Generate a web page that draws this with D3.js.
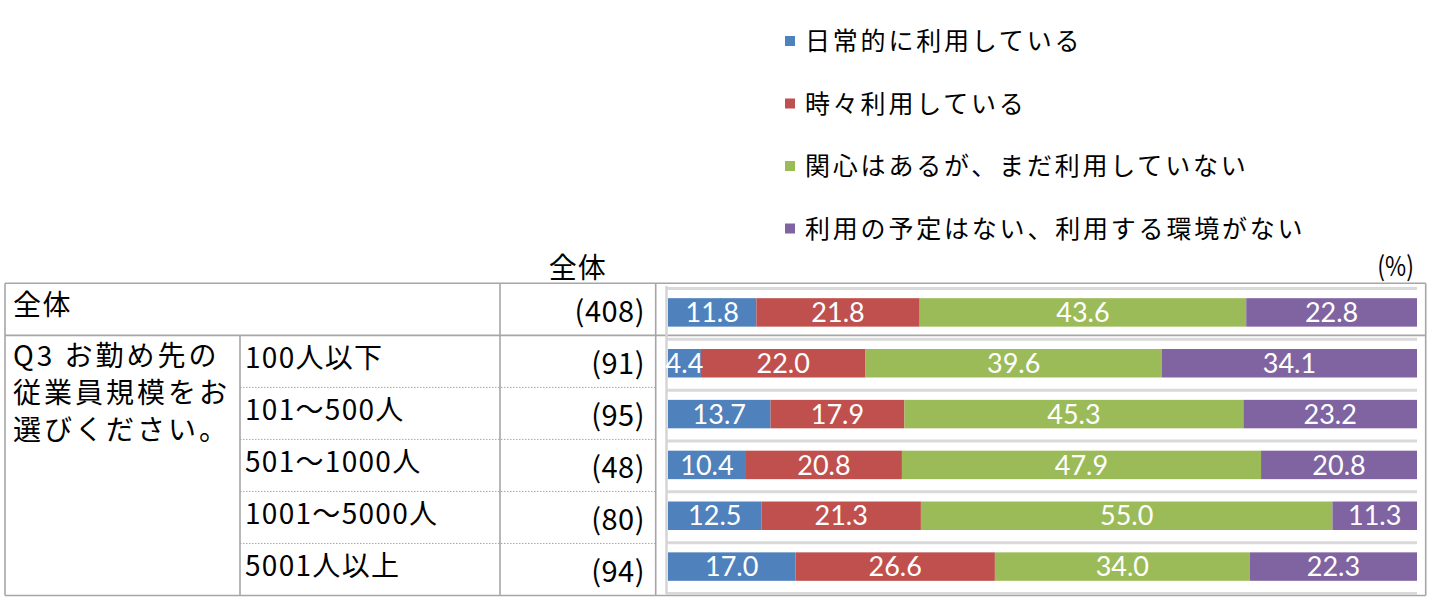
<!DOCTYPE html>
<html>
<head>
<meta charset="utf-8">
<script src="https://cdn.jsdelivr.net/npm/d3@7"></script>
<style>
  html, body { margin: 0; padding: 0; background: #fff; }
  svg { display: block; }
  .jp { font-family: "Noto Sans CJK JP", "Noto Sans", sans-serif; fill: #000; }
  .num { font-family: Lato, "Open Sans", sans-serif; fill: #fff; }
</style>
</head>
<body>
<svg id="chart" width="1434" height="604"></svg>
<script>
// ---- data ----
const categories = ["全体", "100人以下", "101～500人", "501～1000人", "1001～5000人", "5001人以上"];
const counts = [408, 91, 95, 48, 80, 94];
const seriesNames = ["日常的に利用している", "時々利用している", "関心はあるが、まだ利用していない", "利用の予定はない、利用する環境がない"];
const dailyUse = [11.8, 4.4, 13.7, 10.4, 12.5, 17.0];
const sometimesUse = [21.8, 22.0, 17.9, 20.8, 21.3, 26.6];
const interestedNotYet = [43.6, 39.6, 45.3, 47.9, 55.0, 34.0];
const noPlan = [22.8, 34.1, 23.2, 20.8, 11.3, 22.3];
const questionLines = ["Q3 お勤め先の", "従業員規模をお", "選びください。"];
const colors = ["#4f81bd", "#c0504d", "#9bbb59", "#8064a2"];

const seriesValues = [dailyUse, sometimesUse, interestedNotYet, noPlan];
const rows = categories.map((c, i) => {
  const o = { cat: c };
  seriesNames.forEach((s, k) => o[s] = seriesValues[k][i]);
  return o;
});

const svg = d3.select("#chart");

// ---- table layout ----
const tableRow = d3.scaleBand().domain(categories).range([283.3, 595.5]);
const colX = [5, 240, 500, 655.7, 1425.7];
const lineColor = "#a6a6a6";

const tbl = svg.append("g");
const solid = [
  [colX[0], tableRow.range()[0], colX[4], tableRow.range()[0]],
  [colX[0], tableRow.range()[1], colX[4], tableRow.range()[1]],
  [colX[0], tableRow(categories[1]), colX[4], tableRow(categories[1])],
  [colX[0], tableRow.range()[0], colX[0], tableRow.range()[1]],
  [colX[4], tableRow.range()[0], colX[4], tableRow.range()[1]],
  [colX[2], tableRow.range()[0], colX[2], tableRow.range()[1]],
  [colX[3], tableRow.range()[0], colX[3], tableRow.range()[1]],
  [colX[1], tableRow(categories[1]), colX[1], tableRow.range()[1]]
];
tbl.selectAll("line.solid").data(solid).join("line")
  .attr("class", "solid")
  .attr("x1", d => d[0]).attr("y1", d => d[1]).attr("x2", d => d[2]).attr("y2", d => d[3])
  .attr("stroke", lineColor).attr("stroke-width", 1.6);
tbl.selectAll("line.dot").data(categories.slice(2)).join("line")
  .attr("class", "dot")
  .attr("x1", colX[1]).attr("x2", colX[3])
  .attr("y1", d => tableRow(d)).attr("y2", d => tableRow(d))
  .attr("stroke", lineColor).attr("stroke-width", 1).attr("stroke-dasharray", "1.5,1.5");

tbl.append("text").attr("class", "jp")
  .attr("x", 13).attr("y", tableRow(categories[0]) + 32)
  .attr("font-size", 28).attr("letter-spacing", 1.5)
  .text(categories[0]);
tbl.selectAll("text.sub").data(categories.slice(1)).join("text")
  .attr("class", "jp sub")
  .attr("x", 245).attr("y", d => tableRow(d) + 33)
  .attr("font-size", 28).attr("letter-spacing", 1.3)
  .text(d => d);
tbl.selectAll("text.q").data(questionLines).join("text")
  .attr("class", "jp q")
  .attr("x", 13).attr("y", (d, i) => tableRow(categories[1]) + 31 + i * 37)
  .attr("font-size", 28).attr("letter-spacing", 3)
  .text(d => d);
tbl.selectAll("text.cnt").data(categories).join("text")
  .attr("class", "jp cnt")
  .attr("x", 645).attr("y", d => tableRow(d) + 39)
  .attr("text-anchor", "end")
  .attr("font-size", 29).attr("letter-spacing", 0.5)
  .text((d, i) => `(${counts[i]})`);
svg.append("text").attr("class", "jp")
  .attr("x", (colX[2] + colX[3]) / 2).attr("y", 278)
  .attr("text-anchor", "middle").attr("font-size", 28).attr("letter-spacing", 1)
  .text("全体");
svg.append("text").attr("class", "jp")
  .attr("transform", "translate(1414,276) scale(0.85,1)")
  .attr("text-anchor", "end").attr("font-size", 27)
  .text("(%)");

// ---- chart ----
const x = d3.scaleLinear().domain([0, 1]).range([668, 1417]);
const y = d3.scaleBand().domain(categories).range([287, 592]).paddingInner(0.44).paddingOuter(0.22);

const stack = d3.stack().keys(seriesNames).offset(d3.stackOffsetExpand);
const stacked = stack(rows);

const plot = svg.append("g");
const step = y.step();
const bounds = categories.map(c => y(c) - y.paddingInner() * step / 2).concat([592]);
plot.selectAll("line.grid").data(bounds).join("line")
  .attr("class", "grid")
  .attr("x1", 666).attr("x2", x.range()[1])
  .attr("y1", d => d + 1.5).attr("y2", d => d + 1.5)
  .attr("stroke", "#d9d9d9").attr("stroke-width", 3);
plot.append("line")
  .attr("x1", 666.5).attr("x2", 666.5).attr("y1", 286).attr("y2", 594)
  .attr("stroke", "#d4d4d4").attr("stroke-width", 2.5);

const layer = plot.selectAll("g.layer").data(stacked).join("g")
  .attr("class", "layer").attr("fill", (d, i) => colors[i]);
layer.selectAll("rect").data(d => d).join("rect")
  .attr("x", d => x(d[0])).attr("width", d => x(d[1]) - x(d[0]))
  .attr("y", d => y(d.data.cat)).attr("height", y.bandwidth());

const labels = plot.append("g");
stacked.forEach((s, k) => {
  labels.selectAll(null).data(s).join("text")
    .attr("class", "num")
    .attr("x", d => (x(d[0]) + x(d[1])) / 2)
    .attr("y", d => y(d.data.cat) + y.bandwidth() / 2)
    .attr("dy", "0.36em")
    .attr("text-anchor", "middle")
    .attr("font-size", 27)
    .text(d => d.data[seriesNames[k]].toFixed(1));
});

// ---- legend ----
const legendY = d3.scalePoint().domain(seriesNames).range([41, 228.5]);
const lg = svg.append("g").selectAll("g").data(seriesNames).join("g")
  .attr("transform", d => `translate(785,${legendY(d)})`);
lg.append("rect").attr("x", 0).attr("y", -5).attr("width", 10).attr("height", 10)
  .attr("fill", (d, i) => colors[i]);
lg.append("text").attr("class", "jp")
  .attr("x", 20).attr("y", 0).attr("dy", "0.36em")
  .attr("font-size", 25).attr("letter-spacing", 2.8)
  .text(d => d);
</script>
</body>
</html>
